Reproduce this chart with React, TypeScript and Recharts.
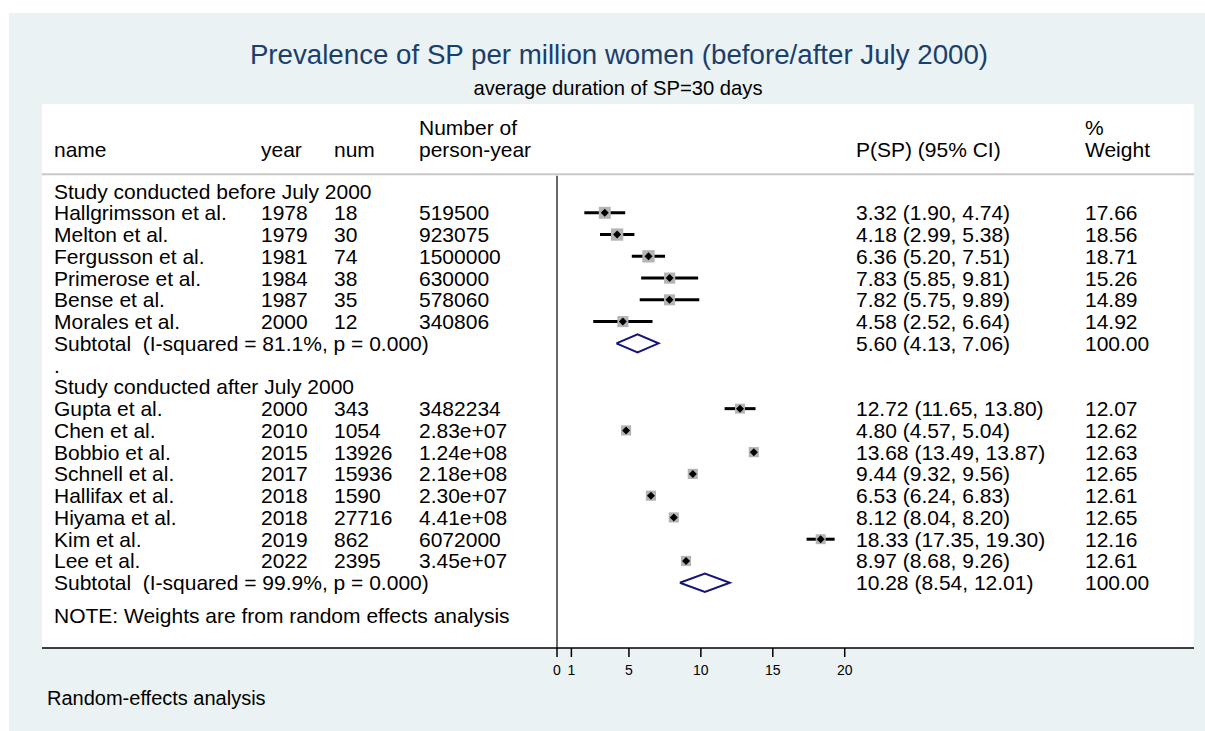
import React from 'react';
import { ComposedChart, Scatter, XAxis, YAxis, ErrorBar, ReferenceLine } from 'recharts';

const FONT = '"Liberation Sans", Arial, Helvetica, sans-serif';

// studies before July 2000
const beforeNames = ['Hallgrimsson et al.', 'Melton et al.', 'Fergusson et al.', 'Primerose et al.', 'Bense et al.', 'Morales et al.'];
const beforeYears = [1978, 1979, 1981, 1984, 1987, 2000];
const beforeCases = [18, 30, 74, 38, 35, 12];
const beforePersonYears = ['519500', '923075', '1500000', '630000', '578060', '340806'];
const beforeES = [3.32, 4.18, 6.36, 7.83, 7.82, 4.58];
const beforeLo = [1.9, 2.99, 5.2, 5.85, 5.75, 2.52];
const beforeHi = [4.74, 5.38, 7.51, 9.81, 9.89, 6.64];
const beforeWeights = [17.66, 18.56, 18.71, 15.26, 14.89, 14.92];
const beforeSubtotal = { es: 5.6, lo: 4.13, hi: 7.06, i2: '81.1%', p: '0.000' };

// studies after July 2000
const afterNames = ['Gupta et al.', 'Chen et al.', 'Bobbio et al.', 'Schnell et al.', 'Hallifax et al.', 'Hiyama et al.', 'Kim et al.', 'Lee et al.'];
const afterYears = [2000, 2010, 2015, 2017, 2018, 2018, 2019, 2022];
const afterCases = [343, 1054, 13926, 15936, 1590, 27716, 862, 2395];
const afterPersonYears = ['3482234', '2.83e+07', '1.24e+08', '2.18e+08', '2.30e+07', '4.41e+08', '6072000', '3.45e+07'];
const afterES = [12.72, 4.8, 13.68, 9.44, 6.53, 8.12, 18.33, 8.97];
const afterLo = [11.65, 4.57, 13.49, 9.32, 6.24, 8.04, 17.35, 8.68];
const afterHi = [13.8, 5.04, 13.87, 9.56, 6.83, 8.2, 19.3, 9.26];
const afterWeights = [12.07, 12.62, 12.63, 12.65, 12.61, 12.65, 12.16, 12.61];
const afterSubtotal = { es: 10.28, lo: 8.54, hi: 12.01, i2: '99.9%', p: '0.000' };

const xTicks = [0, 1, 5, 10, 15, 20];
const X_MIN = -35.8;
const X_MAX = 44.28;

type TextRow = { x: number; y: number; cells: string[] };
type StudyPt = { x: number; y: number; w: number; err: [number, number] };
type DiamondPt = { x: number; y: number };

const textRows: TextRow[] = [];
const studyPts: StudyPt[] = [];
const diamonds: DiamondPt[][] = [];

const fmt = (v: number) => v.toFixed(2);

function addGroup(
  start: number, title: string, names: string[], years: number[], cases: number[], py: string[],
  es: number[], lo: number[], hi: number[], wts: number[],
  sub: { es: number; lo: number; hi: number; i2: string; p: string }
) {
  textRows.push({ x: 0, y: start, cells: [title, '', '', '', '', ''] });
  names.forEach((n, i) => {
    const r = start + 1 + i;
    textRows.push({
      x: 0, y: r,
      cells: [n, String(years[i]), String(cases[i]), py[i], `${fmt(es[i])} (${fmt(lo[i])}, ${fmt(hi[i])})`, fmt(wts[i])],
    });
    studyPts.push({ x: es[i], y: r, w: wts[i], err: [es[i] - lo[i], hi[i] - es[i]] });
  });
  const sr = start + 1 + names.length;
  textRows.push({
    x: 0, y: sr,
    cells: [`Subtotal  (I-squared = ${sub.i2}, p = ${sub.p})`, '', '', '', `${fmt(sub.es)} (${fmt(sub.lo)}, ${fmt(sub.hi)})`, '100.00'],
  });
  const h = 0.42;
  diamonds.push([
    { x: sub.lo, y: sr }, { x: sub.es, y: sr - h }, { x: sub.hi, y: sr },
    { x: sub.es, y: sr + h }, { x: sub.lo, y: sr },
  ]);
}

addGroup(0, 'Study conducted before July 2000', beforeNames, beforeYears, beforeCases, beforePersonYears,
  beforeES, beforeLo, beforeHi, beforeWeights, beforeSubtotal);
textRows.push({ x: 0, y: 8, cells: ['.', '', '', '', '', ''] });
addGroup(9, 'Study conducted after July 2000', afterNames, afterYears, afterCases, afterPersonYears,
  afterES, afterLo, afterHi, afterWeights, afterSubtotal);
textRows.push({ x: 0, y: 19.5, cells: ['NOTE: Weights are from random effects analysis', '', '', '', '', ''] });

const headerRows: TextRow[] = [
  { x: 0, y: -2.9, cells: ['', '', '', 'Number of', '', '%'] },
  { x: 0, y: -1.9, cells: ['name', 'year', 'num', 'person-year', 'P(SP) (95% CI)', 'Weight'] },
];

const colX = [54, 261, 334, 419, 856, 1085];

const RowText = (props: any) => {
  const { cy, payload } = props;
  return (
    <g>
      {payload.cells.map((c: string, i: number) =>
        c ? (
          <text key={i} x={colX[i]} y={cy + 7.5} fontSize={21} fontFamily={FONT} fill="#000" style={{ whiteSpace: 'pre' }}>
            {c}
          </text>
        ) : null
      )}
    </g>
  );
};

const BoxShape = (props: any) => {
  const { cx, cy, payload } = props;
  const s = 2.855 * Math.sqrt(payload.w);
  return <rect x={cx - s / 2} y={cy - s / 2} width={s} height={s} fill="#b4b4b4" />;
};

const PointShape = (props: any) => {
  const { cx, cy } = props;
  const d = 4;
  return <polygon points={`${cx - d},${cy} ${cx},${cy - d} ${cx + d},${cy} ${cx},${cy + d}`} fill="#000" />;
};

const Empty = () => <g />;

export default function App() {
  return (
    <div style={{ position: 'relative', width: 1205, height: 731, background: '#fff', fontFamily: FONT }}>
      <style>{'body{margin:0}'}</style>
      <div style={{ position: 'absolute', left: 9, top: 13, width: 1196, height: 718, background: '#eaf2f3' }} />
      <div style={{ position: 'absolute', left: 42, top: 104, width: 1152, height: 544, background: '#fff' }} />
      <svg width={1205} height={110} style={{ position: 'absolute', left: 0, top: 0 }}>
        <text x={619} y={64} textAnchor="middle" fontSize={27.7} fontFamily={FONT} fill="#1a3f6c">
          Prevalence of SP per million women (before/after July 2000)
        </text>
        <text x={618} y={95} textAnchor="middle" fontSize={20.2} fontFamily={FONT} fill="#000">
          average duration of SP=30 days
        </text>
      </svg>
      <svg width={400} height={731} style={{ position: 'absolute', left: 0, top: 0 }}>
        <text x={47} y={705} fontSize={20} fontFamily={FONT} fill="#000">
          Random-effects analysis
        </text>
      </svg>
      <div style={{ position: 'absolute', left: 0, top: 0 }}>
        <ComposedChart width={1205} height={731} margin={{ top: 104, left: 42, right: 11, bottom: 0 }}>
          <XAxis
            type="number"
            dataKey="x"
            domain={[X_MIN, X_MAX]}
            ticks={xTicks}
            interval={0}
            allowDataOverflow
            height={83}
            tickSize={9}
            tickMargin={8}
            fontSize={14}
            fontFamily={FONT}
            axisLine={{ stroke: '#000', strokeWidth: 1.5 }}
            tickLine={{ stroke: '#000', strokeWidth: 1.5 }}
            tick={{ fill: '#000', fontSize: 14, fontFamily: FONT }}
          />
          <YAxis type="number" dataKey="y" domain={[-4, 21]} reversed hide allowDataOverflow />
          <ReferenceLine y={-0.77} stroke="#c8c8c8" strokeWidth={2} />
          <ReferenceLine segment={[{ x: 0, y: -0.7 }, { x: 0, y: 21 }]} stroke="#444" strokeWidth={1.6} />
          <Scatter data={headerRows} shape={RowText} isAnimationActive={false} />
          <Scatter data={textRows} shape={RowText} isAnimationActive={false} />
          <Scatter data={studyPts} shape={BoxShape} isAnimationActive={false} />
          <Scatter data={studyPts} shape={PointShape} isAnimationActive={false}>
            <ErrorBar dataKey="err" direction="x" width={0} stroke="#000" strokeWidth={3} />
          </Scatter>
          {diamonds.map((d, i) => (
            <Scatter
              key={i}
              data={d}
              shape={Empty}
              line={{ stroke: '#14147a', strokeWidth: 2 }}
              isAnimationActive={false}
            />
          ))}
        </ComposedChart>
      </div>
    </div>
  );
}
